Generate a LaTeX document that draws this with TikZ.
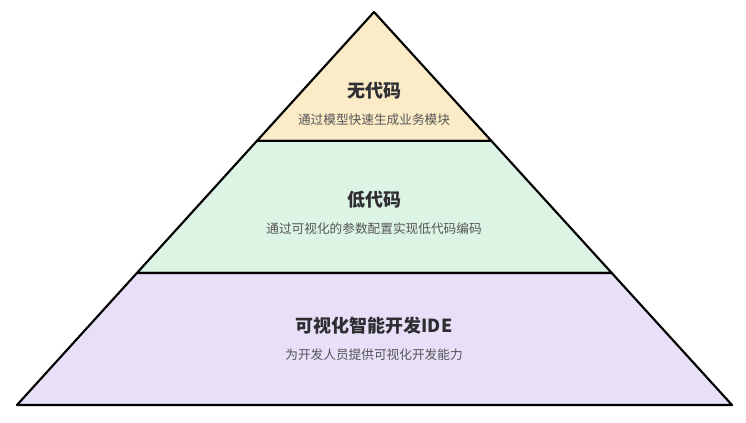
\documentclass[tikz,border=0pt]{standalone}
\usepackage{fontspec}
\setmainfont{Noto Sans CJK SC}
\usepackage{tikz}
\usetikzlibrary{calc, positioning}
\definecolor{topFill}{HTML}{FBEBC6}
\definecolor{midFill}{HTML}{DDF3E4}
\definecolor{baseFill}{HTML}{E7E0F8}
\definecolor{titleDark}{HTML}{2E2E33}
\definecolor{subGray}{HTML}{555558}

\begin{document}
\begin{tikzpicture}[x=0.75pt, y=-0.75pt,
    layer/.style={draw=black, line width=1.6pt, line join=round},
    title/.style={font=\bfseries\fontsize{13.5}{15}\selectfont, text=titleDark},
    sub/.style={font=\fontsize{9.5}{11}\selectfont, text=subGray}]
    \useasboundingbox (0,0) rectangle (746,422);
    \fill[white] (0,0) rectangle (746,422);
    \coordinate (apex) at (374,12);
    \coordinate (bl) at (17,405);
    \coordinate (br) at (732,405);
    % three layers, top to bottom
    \foreach \a/\b/\c in {0/0.328/topFill, 0.328/0.664/midFill, 0.664/1/baseFill} {
      \draw[layer, fill=\c] ($(apex)!\a!(bl)$) -- ($(apex)!\b!(bl)$)
        -- ($(apex)!\b!(br)$) -- ($(apex)!\a!(br)$) -- cycle;
    }
    \node[title] (t1) at (374,91) {无代码};
    \node[sub, below=3.5pt of t1] (s1) {通过模型快速生成业务模块};
    \node[title] (t2) at (374,200) {低代码};
    \node[sub, below=3.5pt of t2] (s2) {通过可视化的参数配置实现低代码编码};
    \node[title] (t3) at (374,326) {可视化智能开发IDE};
    \node[sub, below=3.5pt of t3] (s3) {为开发人员提供可视化开发能力};
  \end{tikzpicture}
\end{document}
